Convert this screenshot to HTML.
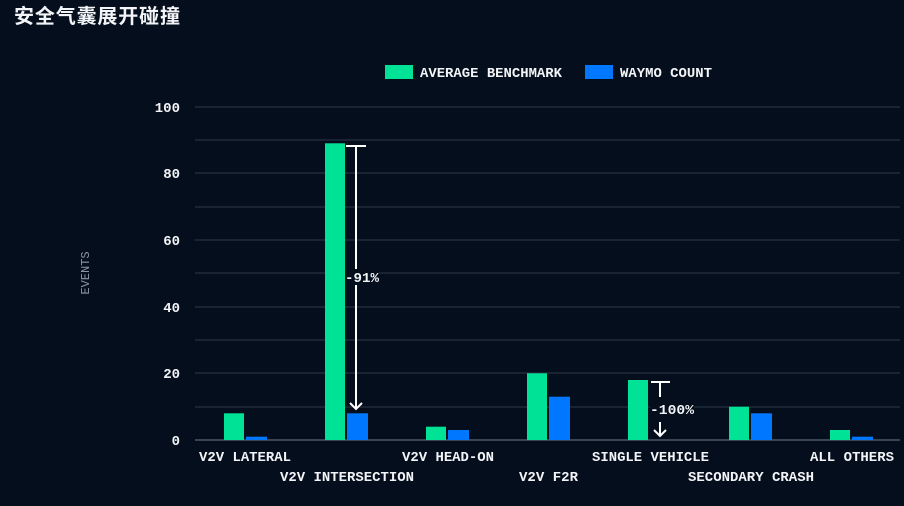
<!DOCTYPE html>
<html><head><meta charset="utf-8"><style>
html,body{margin:0;padding:0;background:#050e1c;}
svg{display:block}
text{font-family:"Liberation Mono",monospace;font-weight:bold;fill:#f2f4f7;font-size:14px}
</style></head><body>
<svg width="904" height="506" viewBox="0 0 904 506">
<rect width="904" height="506" fill="#050e1c"/>
<text x="14" y="23" style="font-family:'Liberation Sans','Noto Sans CJK SC',sans-serif;font-weight:bold;font-size:20px" textLength="166">安全气囊展开碰撞</text>
<rect x="385" y="65" width="28" height="14" fill="#00e396"/>
<text x="420" y="77" textLength="142" lengthAdjust="spacingAndGlyphs">AVERAGE BENCHMARK</text>
<rect x="585" y="65" width="28" height="14" fill="#0077ff"/>
<text x="620" y="77" textLength="92" lengthAdjust="spacingAndGlyphs">WAYMO COUNT</text>
<g stroke="#2a3a48" stroke-width="1">
<line x1="195" x2="900" y1="107" y2="107"/><line x1="195" x2="900" y1="140" y2="140"/>
<line x1="195" x2="900" y1="173" y2="173"/><line x1="195" x2="900" y1="207" y2="207"/>
<line x1="195" x2="900" y1="240" y2="240"/><line x1="195" x2="900" y1="273" y2="273"/>
<line x1="195" x2="900" y1="307" y2="307"/><line x1="195" x2="900" y1="340" y2="340"/>
<line x1="195" x2="900" y1="373" y2="373"/><line x1="195" x2="900" y1="407" y2="407"/>
</g>
<line x1="195" x2="900" y1="440" y2="440" stroke="#4a5866" stroke-width="1.5"/>
<g text-anchor="end">
<text x="180" y="112">100</text><text x="180" y="178">80</text><text x="180" y="245">60</text>
<text x="180" y="312">40</text><text x="180" y="378">20</text><text x="180" y="445">0</text>
</g>
<text transform="translate(89,273) rotate(-90)" text-anchor="middle" style="font-weight:normal;fill:#8a96a3;font-size:12px">EVENTS</text>
<g fill="#00e396">
<rect x="224" y="413.3" width="20" height="26.7"/>
<rect x="325" y="143.3" width="20" height="296.7"/>
<rect x="426" y="426.7" width="20" height="13.3"/>
<rect x="527" y="373.3" width="20" height="66.7"/>
<rect x="628" y="380" width="20" height="60"/>
<rect x="729" y="406.7" width="20" height="33.3"/>
<rect x="830" y="430" width="20" height="10"/>
</g>
<g fill="#0077ff">
<rect x="246" y="436.7" width="21" height="3.3"/>
<rect x="347" y="413.3" width="21" height="26.7"/>
<rect x="448" y="430" width="21" height="10"/>
<rect x="549" y="396.7" width="21" height="43.3"/>
<rect x="751" y="413.3" width="21" height="26.7"/>
<rect x="852" y="436.7" width="21" height="3.3"/>
</g>
<g stroke="#fff" stroke-width="2" fill="none">
<line x1="346" x2="366" y1="146" y2="146"/><line x1="356" x2="356" y1="146" y2="409"/>
<polyline points="350,403 356,409 362,403"/>
<line x1="651" x2="670" y1="382" y2="382"/><line x1="660" x2="660" y1="382" y2="397"/>
<line x1="660" x2="660" y1="422" y2="436"/><polyline points="654,430 660,436 666,430"/>
</g>
<rect x="345" y="269" width="34" height="16" fill="#050e1c"/>
<text x="345" y="282" textLength="34" lengthAdjust="spacingAndGlyphs">-91%</text>
<rect x="650" y="401" width="44" height="16" fill="#050e1c"/>
<text x="650" y="414" textLength="44" lengthAdjust="spacingAndGlyphs">-100%</text>
<g>
<text x="199" y="461" textLength="92" lengthAdjust="spacingAndGlyphs">V2V LATERAL</text>
<text x="280" y="481" textLength="134" lengthAdjust="spacingAndGlyphs">V2V INTERSECTION</text>
<text x="402" y="461" textLength="92" lengthAdjust="spacingAndGlyphs">V2V HEAD-ON</text>
<text x="519" y="481" textLength="59" lengthAdjust="spacingAndGlyphs">V2V F2R</text>
<text x="592" y="461" textLength="117" lengthAdjust="spacingAndGlyphs">SINGLE VEHICLE</text>
<text x="688" y="481" textLength="126" lengthAdjust="spacingAndGlyphs">SECONDARY CRASH</text>
<text x="810" y="461" textLength="84" lengthAdjust="spacingAndGlyphs">ALL OTHERS</text>
</g>
</svg>
</body></html>
